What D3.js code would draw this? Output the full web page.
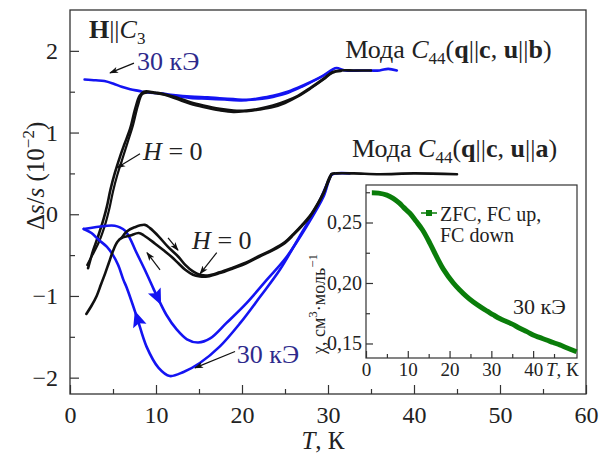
<!DOCTYPE html>
<html><head><meta charset="utf-8">
<script src="https://cdn.jsdelivr.net/npm/d3@7"></script>
<style>
body{margin:0;background:#fff}
svg{display:block}
text{font-family:"Liberation Serif","Times New Roman","DejaVu Serif",serif}
</style>
</head><body>
<svg id="c" width="601" height="454" font-family="Liberation Serif, Times New Roman, serif"></svg>
<script>
// ---------- DATA ----------
// Main axis ticks
const xMajor = [0,10,20,30,40,50,60];
const xMinor = [5,15,25,35,45,55];
const yMajor = [-2,-1,0,1,2];
const yMinor = [-1.5,-0.5,0.5,1.5];

// Mode C44 (q||c, u||b), H = 0 (black), two sweep branches [T, Δs/s]
const ubZeroA = [[2.1,-0.66],[2.7,-0.44],[3.3,-0.26],[3.9,-0.06],[4.3,0.1],[4.7,0.3],[5.2,0.5],[5.8,0.7],[6.3,0.85],[7.0,1.05],[7.6,1.3],[8.1,1.45],[8.6,1.5],[9.3,1.5],[9.9,1.49],[11,1.47],[12.4,1.43],[14,1.37],[15.5,1.33],[17.4,1.29],[19,1.27],[20.5,1.27],[22,1.29],[23.6,1.33],[25,1.38],[26.5,1.45],[28,1.55],[29.5,1.66],[30.5,1.74],[31.5,1.76],[33,1.76],[35,1.76]];
const ubZeroB = [[2.0,-0.62],[2.6,-0.5],[3.4,-0.33],[4.1,-0.12],[4.6,0.08],[5.0,0.28],[5.5,0.48],[6.1,0.68],[6.7,0.88],[7.3,1.08],[7.9,1.33],[8.4,1.47],[9.0,1.49],[9.9,1.48],[11,1.46],[12.4,1.41],[14,1.35],[15.5,1.31],[17.4,1.27],[19,1.25],[20.5,1.26],[22,1.28],[23.6,1.31],[25,1.36],[26.5,1.44],[28,1.54],[29.5,1.65],[30.5,1.73],[31.5,1.75]];
// Mode C44 (q||c, u||b), 30 kOe (blue)
const ubFieldA = [[1.7,1.65],[3,1.64],[4,1.63],[5,1.6],[6,1.56],[7,1.53],[8,1.51],[9,1.49],[10.5,1.48],[12,1.46],[14,1.44],[16,1.43],[17.4,1.42],[19,1.41],[20.5,1.4],[22,1.42],[23.6,1.45],[25,1.49],[26.5,1.55],[28,1.62],[29.5,1.7],[30.5,1.77],[31,1.79],[32,1.76],[34,1.76],[36,1.76],[37,1.78],[38,1.76]];
const ubFieldB = [[12,1.45],[14,1.42],[16,1.41],[18,1.4],[20,1.39],[21.5,1.4],[23,1.42],[25,1.47],[27,1.56],[29,1.67],[30.5,1.76]];

// Mode C44 (q||c, u||a), H = 0 (black)
const uaZeroA = [[1.9,-1.22],[2.5,-1.12],[3.1,-1.0],[3.6,-0.86],[4.1,-0.72],[4.5,-0.6],[5.0,-0.45],[5.5,-0.34],[6.0,-0.29],[7.0,-0.26],[8.0,-0.23],[8.6,-0.26],[9.9,-0.36],[11.0,-0.45],[11.8,-0.52],[12.6,-0.6],[13.4,-0.68],[14.3,-0.74],[15.1,-0.76],[16.0,-0.76],[17.4,-0.72],[19,-0.66],[20.5,-0.6],[22,-0.52],[23.6,-0.44],[25,-0.35],[26,-0.25],[27,-0.14],[27.9,-0.03],[28.8,0.12],[29.5,0.26],[30.4,0.49],[31,0.5],[33,0.5],[36,0.49],[40,0.5],[45,0.49]];
const uaZeroB = [[6.0,-0.29],[6.6,-0.21],[7.5,-0.16],[8.7,-0.13],[9.3,-0.17],[10.3,-0.27],[11.4,-0.4],[12.6,-0.52],[13.4,-0.62],[14.3,-0.7],[15.1,-0.74],[16,-0.75],[17.4,-0.71],[19,-0.65],[20.5,-0.59],[22,-0.51],[23.6,-0.43],[25,-0.34],[26,-0.24],[27,-0.13],[27.9,-0.02],[28.8,0.13],[29.5,0.27],[30.4,0.49]];
// Mode C44 (q||c, u||a), 30 kOe (blue loop)
const uaFieldUp = [[1.6,-0.18],[2.9,-0.16],[4.3,-0.14],[5.2,-0.14],[5.8,-0.16],[6.4,-0.2],[7.0,-0.3],[7.6,-0.44],[8.7,-0.68],[9.7,-0.91],[10.1,-1.0],[11.2,-1.23],[12.4,-1.41],[13.6,-1.53],[14.9,-1.57],[16.3,-1.52],[18.2,-1.33],[20.5,-1.09],[22.9,-0.8],[25.2,-0.52],[27.5,-0.15],[29.5,0.22],[30.4,0.48],[31,0.5],[32.5,0.5]];
const uaFieldDown = [[1.6,-0.18],[2.5,-0.23],[3.3,-0.31],[4.3,-0.4],[5.0,-0.5],[5.6,-0.62],[6.2,-0.8],[6.6,-0.9],[7.75,-1.25],[8.9,-1.62],[10.3,-1.88],[11.6,-1.98],[13.2,-1.93],[15.1,-1.82],[17.4,-1.62],[19.8,-1.33],[22.1,-1.01],[24.4,-0.68],[26.7,-0.27],[28.7,0.09],[30.0,0.4],[30.4,0.49]];
// direction markers on the blue loop: [T on branch, direction (+1 heating / -1 cooling), branch]
const loopMarks = [[10.1,+1,"up"],[7.9,-1,"down"]];

// Inset: susceptibility χ (cm3/mol) vs T, 30 kOe
const insetXMajor = [0,10,20,30,40];
const insetXMinor = [5,15,25,35,45];
const insetYMajor = [0.15,0.20,0.25];
const insetYMinor = [0.175,0.225,0.275];
const chi = [[1.4,0.2746],[3,0.2743],[5,0.2727],[6.5,0.27],[8,0.266],[9,0.2625],[10.5,0.2576],[12,0.251],[13.5,0.244],[15.3,0.2328],[17,0.221],[18.5,0.2115],[20.9,0.2],[22.5,0.194],[24.1,0.1887],[25.7,0.1842],[27.3,0.1804],[29,0.1768],[30.5,0.1736],[32,0.1706],[33.7,0.168],[35,0.166],[36.8,0.1626],[38.5,0.1598],[40,0.157],[41.5,0.155],[43.2,0.1529],[44.8,0.1508],[46.4,0.1488],[48,0.1465],[50.4,0.1432]];

// Annotation arrows [[T0,v0],[T1,v1]] (data units)
const arrows = [
  [[7.44,1.85],[4.65,1.73]],
  [[8.14,0.74],[5.47,0.57]],
  [[17.06,-0.47],[15.12,-0.73]],
  [[19.19,-1.68],[14.53,-1.88]],
  [[11.4,-0.29],[12.56,-0.44]],
  [[10.47,-0.68],[8.95,-0.47]]
];

// ---------- STYLE ----------
const BLACK = "#111", BLUE = "#1414f2", NAVY = "#2e2a8c", GREEN = "#0a7d0a", AX = "#333", TXT = "#222";
const SERIF = '"Liberation Serif","Times New Roman",serif';

const svg = d3.select("#c");
const x = d3.scaleLinear().domain([0,60]).range([70,586]);
const y = d3.scaleLinear().domain([-2.2,2.5]).range([394,10]);
const fmt = d => d < 0 ? "\u2212" + Math.abs(d) : String(d);

const defs = svg.append("defs");
defs.append("marker").attr("id","ah").attr("viewBox","0 0 10 10").attr("refX",9).attr("refY",5)
  .attr("markerWidth",9).attr("markerHeight",9).attr("markerUnits","userSpaceOnUse").attr("orient","auto")
  .append("path").attr("d","M0,1.5 L10,5 L0,8.5 L2.5,5 Z").attr("fill",BLACK);

// Axes
function styleAxis(g, fs){
  g.attr("font-family",null);
  g.select(".domain").remove();
  g.selectAll(".tick line").attr("stroke",AX).attr("stroke-width",1.2);
  g.selectAll(".tick text").style("fill",TXT).style("font-size",fs+"px").style("font-family",SERIF);
}
const FT = 24;
const gx = svg.append("g").attr("transform","translate(0,394)")
  .call(d3.axisBottom(x).tickValues(xMajor).tickSizeInner(-9).tickSizeOuter(0).tickPadding(12).tickFormat(fmt));
styleAxis(gx,FT);
const gx2 = svg.append("g").attr("transform","translate(0,394)")
  .call(d3.axisBottom(x).tickValues(xMinor).tickSizeInner(-5).tickSizeOuter(0).tickFormat(""));
styleAxis(gx2,FT);
const gy = svg.append("g").attr("transform","translate(70,0)")
  .call(d3.axisLeft(y).tickValues(yMajor).tickSizeInner(-9).tickSizeOuter(0).tickPadding(12).tickFormat(fmt));
styleAxis(gy,FT);
const gy2 = svg.append("g").attr("transform","translate(70,0)")
  .call(d3.axisLeft(y).tickValues(yMinor).tickSizeInner(-5).tickSizeOuter(0).tickFormat(""));
styleAxis(gy2,FT);
svg.append("rect").attr("x",70).attr("y",10).attr("width",516).attr("height",384)
  .attr("fill","none").attr("stroke",AX).attr("stroke-width",1.3);

// Curves
const line = d3.line().x(d=>x(d[0])).y(d=>y(d[1])).curve(d3.curveCatmullRom.alpha(0.5));
const curves = [
  [ubFieldA,BLUE,2.6],[ubFieldB,BLUE,2.0],
  [ubZeroA,BLACK,2.6],[ubZeroB,BLACK,2.2],
  [uaFieldUp,BLUE,2.6],[uaFieldDown,BLUE,2.6],
  [uaZeroA,BLACK,2.6],[uaZeroB,BLACK,2.6]
];
svg.append("g").selectAll("path").data(curves).join("path")
  .attr("d",d=>line(d[0])).attr("fill","none").attr("stroke",d=>d[1]).attr("stroke-width",d=>d[2])
  .attr("stroke-linejoin","round").attr("stroke-linecap","round");

// Direction triangles on blue loop
function interp(arr,T){
  for(let i=0;i<arr.length-1;i++){
    const a=arr[i],b=arr[i+1];
    if(T>=a[0]&&T<=b[0]){const t=(T-a[0])/(b[0]-a[0]);return [a,b,a[1]+t*(b[1]-a[1])];}
  }
  return null;
}
loopMarks.forEach(m=>{
  const arr = m[2]==="up" ? uaFieldUp : uaFieldDown;
  const r = interp(arr,m[0]);
  const a=r[0], b=r[1];
  const dx = (x(b[0])-x(a[0]))*m[1], dy=(y(b[1])-y(a[1]))*m[1];
  const ang = Math.atan2(dy,dx)*180/Math.PI + 90;
  svg.append("path").attr("d","M0,-10 L7,6 L0,3 L-7,6 Z")
    .attr("transform",`translate(${x(m[0])},${y(r[2])}) rotate(${ang})`).attr("fill",BLUE);
});

// Arrows
svg.append("g").selectAll("line").data(arrows).join("line")
  .attr("x1",d=>x(d[0][0])).attr("y1",d=>y(d[0][1])).attr("x2",d=>x(d[1][0])).attr("y2",d=>y(d[1][1]))
  .attr("stroke",BLACK).attr("stroke-width",1.2).attr("marker-end","url(#ah)");

// Text helper
function rich(g, parts, attrs, color){
  const t = g.append("text").style("font-family",SERIF).style("fill",color||TXT);
  Object.entries(attrs).forEach(([k,v])=>t.attr(k,v));
  parts.forEach(p=>{
    const s = t.append("tspan").text(p.t);
    if(p.b) s.style("font-weight","bold");
    if(p.i) s.style("font-style","italic");
    if(p.fs) s.style("font-size",p.fs+"px");
    if(p.dy) s.attr("dy",p.dy);
  });
  return t;
}
const F = 26;
rich(svg,[{t:"H",b:1},{t:"||"},{t:"C",i:1},{t:"3",fs:17,dy:6}],{x:x(2.2),y:y(2.16),"font-size":F});
rich(svg,[{t:"30 кЭ"}],{x:x(7.8),y:y(1.77),"font-size":F},NAVY);
rich(svg,[{t:"30 кЭ"}],{x:x(19.4),y:y(-1.82),"font-size":F},NAVY);
rich(svg,[{t:"H",i:1},{t:" = 0"}],{x:x(8.5),y:y(0.665),"font-size":F});
rich(svg,[{t:"H",i:1},{t:" = 0"}],{x:x(14.2),y:y(-0.425),"font-size":F});
const modeParts = last => [{t:"Мода "},{t:"C",i:1},{t:"44",fs:17,dy:6},{t:"(",dy:-6},{t:"q",b:1},{t:"||"},{t:"c",b:1},{t:", "},{t:"u",b:1},{t:"||"},{t:last,b:1},{t:")"}];
rich(svg,modeParts("b"),{x:x(32),y:y(1.91),"font-size":F});
rich(svg,modeParts("a"),{x:x(32.8),y:y(0.70),"font-size":F});

// Axis titles
rich(svg,[{t:"T",i:1},{t:", К"}],{x:323,y:449,"font-size":25,"text-anchor":"middle"});
rich(svg,[{t:"Δ"},{t:"s",i:1},{t:"/"},{t:"s",i:1},{t:" (10"},{t:"−2",fs:17,dy:-10},{t:")",dy:10}],
  {transform:"translate(44,176) rotate(-90)","font-size":25,"text-anchor":"middle"});

// ---------- INSET ----------
const xi = d3.scaleLinear().domain([0,50.5]).range([366,577]);
const yi = d3.scaleLinear().domain([0.138,0.281]).range([358,185]);
const ins = svg.append("g");
ins.append("rect").attr("x",366).attr("y",185).attr("width",211).attr("height",173).attr("fill","#fff");
const FI = 19;
const ixa = ins.append("g").attr("transform","translate(0,358)")
  .call(d3.axisBottom(xi).tickValues(insetXMajor).tickSizeInner(-7).tickSizeOuter(0).tickPadding(5));
styleAxis(ixa,FI);
const ixb = ins.append("g").attr("transform","translate(0,358)")
  .call(d3.axisBottom(xi).tickValues(insetXMinor).tickSizeInner(-4).tickSizeOuter(0).tickFormat(""));
styleAxis(ixb,FI);
const iya = ins.append("g").attr("transform","translate(366,0)")
  .call(d3.axisLeft(yi).tickValues(insetYMajor).tickSizeInner(-7).tickSizeOuter(0).tickPadding(4).tickFormat(d=>d3.format(".2f")(d).replace(".",",")));
styleAxis(iya,20);
const iyb = ins.append("g").attr("transform","translate(366,0)")
  .call(d3.axisLeft(yi).tickValues(insetYMinor).tickSizeInner(-4).tickSizeOuter(0).tickFormat(""));
styleAxis(iyb,FI);
ins.append("rect").attr("x",366).attr("y",185).attr("width",211).attr("height",173)
  .attr("fill","none").attr("stroke",AX).attr("stroke-width",1.2);
const lineI = d3.line().x(d=>xi(d[0])).y(d=>yi(d[1])).curve(d3.curveCatmullRom.alpha(0.5));
ins.append("path").attr("d",lineI(chi)).attr("fill","none").attr("stroke",GREEN).attr("stroke-width",5);

// legend
ins.append("line").attr("x1",421).attr("x2",437).attr("y1",213).attr("y2",213).attr("stroke",GREEN).attr("stroke-width",1.5);
ins.append("rect").attr("x",426).attr("y",210).attr("width",6).attr("height",6).attr("fill",GREEN);
rich(ins,[{t:"ZFC, FC up,"}],{x:440,y:221,"font-size":20});
rich(ins,[{t:"FC down"}],{x:440,y:242,"font-size":20});
rich(ins,[{t:"30 кЭ"}],{x:513,y:314,"font-size":22});
rich(ins,[{t:"T",i:1},{t:", К"}],{x:546,y:376,"font-size":FI});
rich(ins,[{t:"χ, см"},{t:"3",fs:13,dy:-8},{t:"·моль",dy:8},{t:"−1",fs:13,dy:-8}],
  {transform:"translate(325,304) rotate(-90)","font-size":18,"text-anchor":"middle"});
</script>
</body></html>
